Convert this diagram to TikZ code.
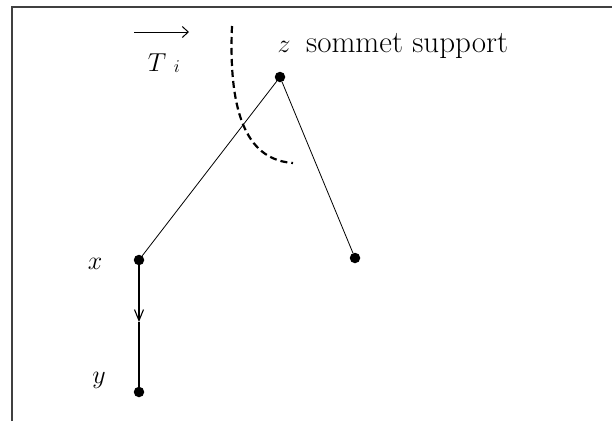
\RequirePackage{fix-cm}
\documentclass[tikz,border=0pt]{standalone}
\usetikzlibrary{arrows.meta}
\begin{document}
\begin{tikzpicture}[x=1pt,y=-1pt,
  vertex/.style={circle,fill=black,inner sep=0pt,minimum size=10.5pt},
  lbl/.style={inner sep=0pt,font=\fontsize{31}{36}\selectfont},
  mlbl/.style={inner sep=0pt,font=\fontsize{26}{30}\selectfont},
  edge/.style={line width=0.8pt},
  framebar/.style={line width=2pt,draw=black!75}]
\useasboundingbox (0,0) rectangle (612,421);
\fill[white] (0,0) rectangle (612,421);
% frame
\draw[framebar] (12,421) -- (12,6.5) -- (612,6.5);
% vertices
\node[vertex] (z) at (280,77) {};
\node[vertex] (x) at (139,260) {};
\node[vertex] (w) at (355,258) {};
\node[vertex] (y) at (139,392) {};
\coordinate (m) at (139,322);
% edges
\draw[edge] (z) -- (x);
\draw[edge] (z) -- (w);
\draw[line width=1.1pt,-{Straight Barb[length=11pt,width=9pt]}] (x.center) -- (m);
\draw[line width=1.1pt] (m) -- (y.center);
% labels
\node[mlbl,anchor=base] (zl) at (284,52) {$z$};
\node[lbl,anchor=base west] (sup) at (306,52) {sommet support};
\node[mlbl,anchor=base] (xl) at (95,269) {$x$};
\node[mlbl,anchor=base] (yl) at (99,383) {$y$};
\node[mlbl,anchor=base] (T) at (157,71) {$T$};
\node[mlbl,anchor=base,font=\fontsize{18}{22}\selectfont] (i) at (177,72) {$i$};
\coordinate (ta) at (134,32);
\coordinate (tb) at (189,32);
\draw[line width=1pt,-{Straight Barb[length=6pt,width=11pt]}] (ta) -- (tb);
% dashed curve
\coordinate (c1) at (232,26);
\coordinate (c2) at (293,163);
\draw[line width=2.2pt,dash pattern=on 7pt off 4pt] (c1) .. controls (228,120) and (250,160) .. (c2);
\end{tikzpicture}
\end{document}
